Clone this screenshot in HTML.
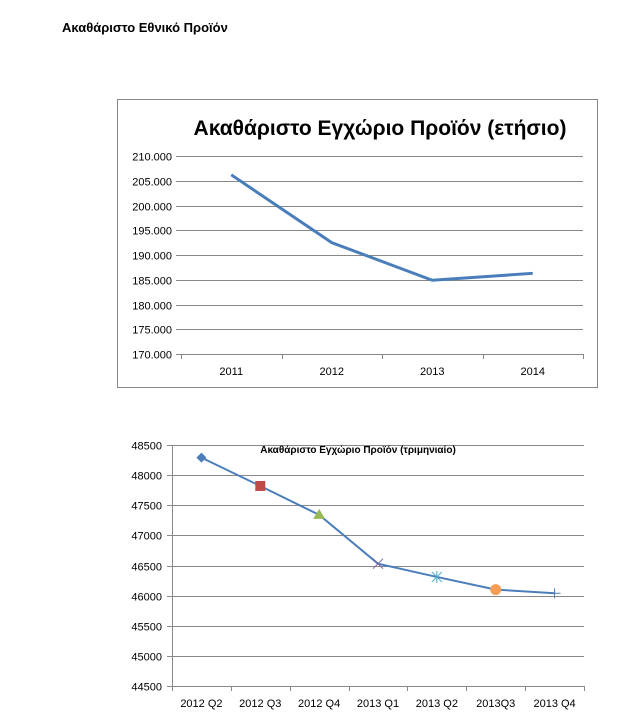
<!DOCTYPE html>
<html><head><meta charset="utf-8"><style>
body{margin:0;background:#fff;width:626px;height:727px;overflow:hidden;font-family:"Liberation Sans","DejaVu Sans",sans-serif}
#hdr{position:absolute;left:62px;top:20px;font-size:13px;font-weight:bold;color:#000}
svg{position:absolute;left:0;top:0}
</style></head><body>
<div id="hdr">Ακαθάριστο Εθνικό Προϊόν</div>
<svg id="c" width="626" height="727"></svg>
<script>
const yearCats=["2011","2012","2013","2014"];
const yearVals=[206200,192500,184900,186300];
const yearTicks=[170000,175000,180000,185000,190000,195000,200000,205000,210000];
const qCats=["2012 Q2","2012 Q3","2012 Q4","2013 Q1","2013 Q2","2013Q3","2013 Q4"];
const qVals=[48290,47820,47340,46530,46310,46100,46040];
const qTicks=[44500,45000,45500,46000,46500,47000,47500,48000,48500];

const NS="http://www.w3.org/2000/svg";
const svg=document.getElementById('c');
function mk(t,a,p){const e=document.createElementNS(NS,t);for(const k in a)e.setAttribute(k,a[k]);(p||svg).appendChild(e);return e;}

// Chart 1
const g1=mk('g',{});


mk('rect',{x:117.5,y:99.5,width:480,height:288,fill:'#fff',stroke:'#888'},g1);
const t1=mk('text',{x:380,y:135,'text-anchor':'middle','font-size':'21','font-weight':'bold',fill:'#000'},g1);
t1.textContent="Ακαθάριστο Εγχώριο Προϊόν (ετήσιο)";


const L1=181,R1=583,T1=156,B1=354,ymin1=170000,ymax1=210000;
const y1=v=>B1-(v-ymin1)/(ymax1-ymin1)*(B1-T1);
const bw1=(R1-L1)/yearCats.length;
const x1=i=>L1+bw1*(i+0.5);
yearTicks.forEach(v=>{
 const y=Math.round(y1(v))+0.5;
 mk('line',{x1:L1-5,x2:R1,y1:y,y2:y,stroke:'#888','stroke-width':1},g1);
 const t=mk('text',{x:L1-9,y:y+4,'text-anchor':'end','font-size':'11',fill:'#000'},g1);
 t.textContent=(v/1000).toFixed(3);
 
 
});
for(let i=0;i<=yearCats.length;i++){const x=Math.round(L1+bw1*i)+0.5;mk('line',{x1:x,x2:x,y1:B1,y2:B1+5,stroke:'#888'},g1);}
yearCats.forEach((c,i)=>{
 const t=mk('text',{x:x1(i),y:B1+21,'text-anchor':'middle','font-size':'11',fill:'#000'},g1);
 t.textContent=c;
 
 
});
const p1=mk('polyline',{points:yearVals.map((v,i)=>x1(i)+','+y1(v)).join(' '),fill:'none',stroke:'#4a7ebb','stroke-width':3},g1);



// Chart 2
const g2=mk('g',{});


const L2=172,R2=584,T2=445,B2=686,ymin2=44500,ymax2=48500;
const y2=v=>B2-(v-ymin2)/(ymax2-ymin2)*(B2-T2);
const bw2=(R2-L2)/qCats.length;
const x2=i=>L2+bw2*(i+0.5);
qTicks.forEach(v=>{
 const y=Math.round(y2(v))+0.5;
 mk('line',{x1:L2-5,x2:R2,y1:y,y2:y,stroke:'#888'},g2);
 const t=mk('text',{x:L2-10,y:y+4,'text-anchor':'end','font-size':'11',fill:'#000'},g2);
 t.textContent=v;
 
 
});
mk('line',{x1:L2+0.5,x2:L2+0.5,y1:T2,y2:B2,stroke:'#888'},g2);
for(let i=0;i<=qCats.length;i++){const x=Math.round(L2+bw2*i)+0.5;mk('line',{x1:x,x2:x,y1:B2,y2:B2+5,stroke:'#888'},g2);}
qCats.forEach((c,i)=>{
 const t=mk('text',{x:x2(i),y:B2+21,'text-anchor':'middle','font-size':'11',fill:'#000'},g2);
 t.textContent=c;
 
 
});
const t2=mk('text',{x:358,y:453,'text-anchor':'middle','font-size':'10','font-weight':'bold',fill:'#000'},g2);
t2.textContent="Ακαθάριστο Εγχώριο Προϊόν (τριμηνιαίο)";


const p2=mk('polyline',{points:qVals.map((v,i)=>x2(i)+','+y2(v)).join(' '),fill:'none',stroke:'#4a7ebb','stroke-width':2},g2);


qVals.forEach((v,i)=>{
 const x=x2(i),y=y2(v);let m;
 if(i===0)m=mk('polygon',{points:`${x},${y-5} ${x+5},${y} ${x},${y+5} ${x-5},${y}`,fill:'#4a7ebb'},g2);
 else if(i===1)m=mk('rect',{x:x-5,y:y-5,width:10,height:10,fill:'#be4b48'},g2);
 else if(i===2)m=mk('polygon',{points:`${x},${y-6} ${x+6},${y+4} ${x-6},${y+4}`,fill:'#98b954'},g2);
 else if(i===3)m=mk('path',{d:`M${x-5},${y-5}L${x+5},${y+5}M${x+5},${y-5}L${x-5},${y+5}`,stroke:'#7d60a0','stroke-width':1},g2);
 else if(i===4)m=mk('path',{d:`M${x-5},${y-5}L${x+5},${y+5}M${x+5},${y-5}L${x-5},${y+5}M${x},${y-6}L${x},${y+6}`,stroke:'#46aac5','stroke-width':1},g2);
 else if(i===5)m=mk('circle',{cx:x,cy:y,r:5.5,fill:'#f59d56'},g2);
 else m=mk('path',{d:`M${x-6},${y}L${x+6},${y}M${x},${y-5}L${x},${y+5}`,stroke:'#4a7ebb','stroke-width':1},g2);
 
 
});
</script>
</body></html>
